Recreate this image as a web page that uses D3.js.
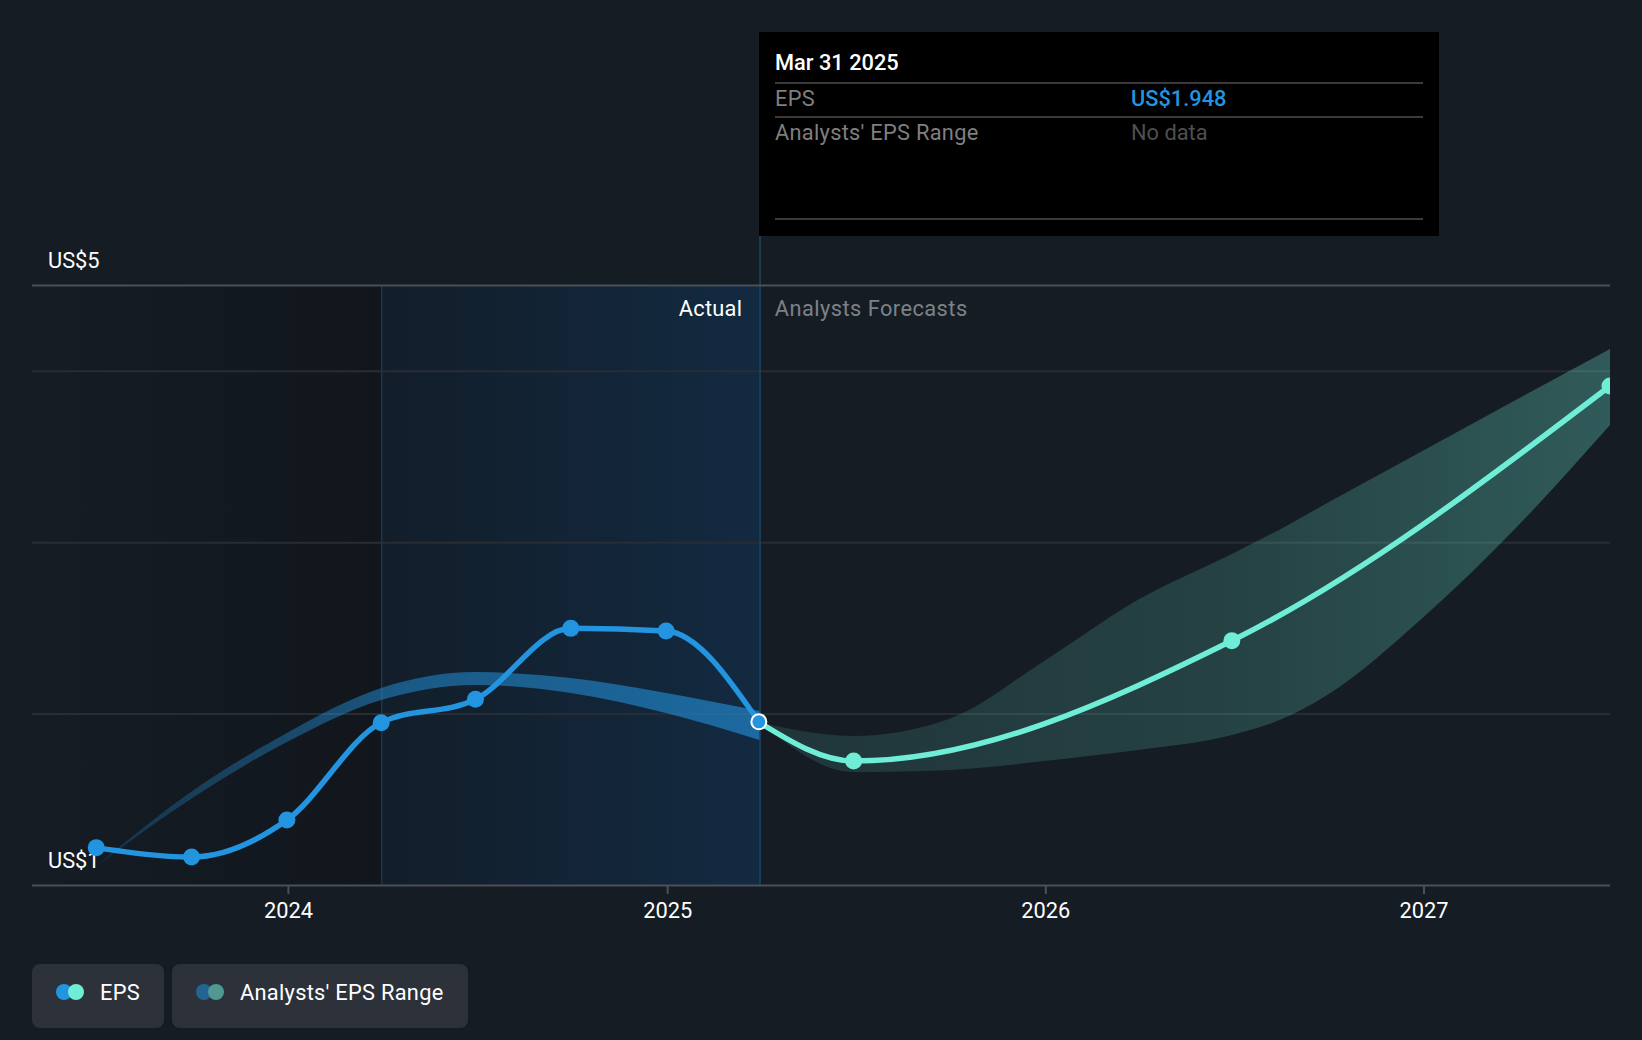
<!DOCTYPE html>
<html>
<head>
<meta charset="utf-8">
<script src="https://cdn.jsdelivr.net/npm/d3@7"></script>
<style>
  html, body { margin: 0; padding: 0; background: #151c24; }
  svg { display: block; }
  text { font-family: Roboto, sans-serif; font-size: 21.8px; }
  .words { letter-spacing: 0.28px; }
</style>
</head>
<body>
<svg id="chart" width="1642" height="1040"></svg>
<script>
// EPS, actual
const actualDates = ['2023-06-30', '2023-09-30', '2023-12-31', '2024-03-31', '2024-06-30', '2024-09-30', '2024-12-31', '2025-03-31'];
const actualEps = [1.218, 1.163, 1.379, 1.947, 2.083, 2.497, 2.482, 1.948];

// EPS, forecast
const forecastDates = ['2025-03-31', '2025-06-30', '2026-06-30', '2027-06-30'];
const forecastEps = [1.948, 1.723, 2.425, 3.911];

// past analysts range
const pastRangeDates = ['2023-06-30', '2023-09-30', '2023-12-31', '2024-03-31', '2024-06-30', '2024-09-30', '2024-12-31', '2025-03-31'];
const pastRangeHigh = [1.11, 1.545, 1.887, 2.149, 2.242, 2.207, 2.120, 2.015];
const pastRangeLow = [1.11, 1.505, 1.834, 2.079, 2.167, 2.120, 2.003, 1.846];

// forecast analysts range
const futureRangeDates = ['2025-03-31', '2025-06-30', '2025-09-30', '2025-12-31', '2026-03-31', '2026-06-30', '2026-08-15', '2026-09-30', '2026-12-31', '2027-03-31', '2027-06-30'];
const futureRangeHigh = [1.948, 1.869, 1.968, 2.307, 2.662, 2.931, 3.073, 3.228, 3.532, 3.829, 4.127];
const futureRangeLow = [1.948, 1.659, 1.671, 1.723, 1.787, 1.875, 1.962, 2.108, 2.557, 3.082, 3.683];

const yearTicks = ['2024-01-01', '2025-01-01', '2026-01-01', '2027-01-01'];
const yearLabels = ['2024', '2025', '2026', '2027'];
const gridValues = [2, 3, 4];
const yEnds = [1, 4.5];
const yEndLabels = ['US$1', 'US$5'];

const tooltipDate = 'Mar 31 2025';
const tooltipLabels = ['EPS', "Analysts' EPS Range"];
const tooltipValues = ['US$1.948', 'No data'];

const legendLabels = ['EPS', "Analysts' EPS Range"];

const BLUE = '#2394df';
const TEAL = '#6fedd6';

const parse = d3.utcParse('%Y-%m-%d');
const svg = d3.select('#chart');
const margin = { left: 32, right: 32, top: 285, bottom: 155 };
const width = +svg.attr('width');
const height = +svg.attr('height');
const plotBottom = height - margin.bottom;
const plotRight = width - margin.right;

const x = d3.scaleUtc()
  .domain([parse('2023-04-29'), parse('2027-06-30')])
  .range([margin.left, plotRight]);
const y = d3.scaleLinear().domain(yEnds).range([plotBottom, margin.top]);

// gradients
const defs = svg.append('defs');
function gradient(id, stops) {
  const g = defs.append('linearGradient').attr('id', id)
    .attr('x1', 0).attr('x2', 1).attr('y1', 0).attr('y2', 0);
  stops.forEach((s) => {
    g.append('stop').attr('offset', s[0]).attr('stop-color', s[1]).attr('stop-opacity', s[2]);
  });
}
gradient('leftShade', [[0, '#0e1116', 0], [1, '#0e1116', 0.5]]);
gradient('actualShade', [[0, '#121e2a', 1], [1, '#122a41', 1]]);
gradient('pastBand', [[0, BLUE, 0.2], [0.45, BLUE, 0.5], [1, BLUE, 0.6]]);
gradient('futureBand', [[0, TEAL, 0.12], [0.55, TEAL, 0.18], [1, TEAL, 0.3]]);
defs.append('clipPath').attr('id', 'plotClip').append('rect')
  .attr('x', margin.left).attr('y', 0)
  .attr('width', plotRight - margin.left).attr('height', height);

const xLine = x(parse('2025-03-31'));
const xStart = x(parse('2024-03-31'));

// shaded zones
svg.append('rect').attr('x', margin.left).attr('y', margin.top)
  .attr('width', xStart - margin.left).attr('height', plotBottom - margin.top)
  .attr('fill', 'url(#leftShade)');
svg.append('rect').attr('x', xStart).attr('y', margin.top)
  .attr('width', xLine - xStart).attr('height', plotBottom - margin.top)
  .attr('fill', 'url(#actualShade)');

// grid lines
const grid = svg.append('g').attr('transform', `translate(${margin.left},0)`)
  .call(d3.axisRight(y).tickValues(gridValues).tickSize(plotRight - margin.left).tickFormat(''));
grid.select('.domain').remove();
grid.selectAll('line').attr('stroke', '#282d34').attr('stroke-width', 2);

svg.append('line').attr('x1', xStart + 0.5).attr('x2', xStart + 0.5)
  .attr('y1', margin.top).attr('y2', plotBottom)
  .attr('stroke', '#1b374c').attr('stroke-width', 1.5);
svg.append('line').attr('x1', xLine + 0.7).attr('x2', xLine + 0.7)
  .attr('y1', 236).attr('y2', plotBottom)
  .attr('stroke', '#1d4563').attr('stroke-width', 1.5);

// top and bottom rules, with their end labels
const yEdge = svg.append('g').attr('transform', `translate(${margin.left},0)`)
  .call(d3.axisRight(y).tickValues(yEnds).tickSize(plotRight - margin.left)
    .tickFormat((d, i) => yEndLabels[i]));
yEdge.select('.domain').remove();
yEdge.selectAll('line').attr('stroke', '#4b5058').attr('stroke-width', 2);
yEdge.selectAll('text')
  .attr('x', 16).attr('dy', -23)
  .attr('text-anchor', 'start').attr('dominant-baseline', 'middle')
  .attr('fill', '#fff');

// x axis
const xAxis = svg.append('g').attr('transform', `translate(0,${plotBottom})`)
  .call(d3.axisBottom(x).tickValues(yearTicks.map(parse)).tickSize(9).tickPadding(9)
    .tickFormat((d, i) => yearLabels[i]));
xAxis.select('.domain').remove();
xAxis.selectAll('line').attr('stroke', '#4b5058').attr('stroke-width', 2);
xAxis.selectAll('text').attr('fill', '#fff').style('font-size', '21.8px');

svg.append('text').attr('class', 'words').attr('x', xLine - 17).attr('y', 310)
  .attr('text-anchor', 'end').attr('dominant-baseline', 'middle')
  .attr('fill', '#fff').text('Actual');
svg.append('text').attr('x', xLine + 15.5).attr('y', 310)
  .attr('dominant-baseline', 'middle').style('letter-spacing', '0.45px')
  .attr('fill', '#7d8188').text('Analysts Forecasts');

// series
const chart = svg.append('g').attr('clip-path', 'url(#plotClip)');
const band = d3.area().curve(d3.curveMonotoneX)
  .x((d) => x(d.date)).y0((d) => y(d.low)).y1((d) => y(d.high));
const line = d3.line().curve(d3.curveMonotoneX)
  .x((d) => x(d.date)).y((d) => y(d.value));

const pastRange = pastRangeDates.map((d, i) => ({ date: parse(d), high: pastRangeHigh[i], low: pastRangeLow[i] }));
const futureRange = futureRangeDates.map((d, i) => ({ date: parse(d), high: futureRangeHigh[i], low: futureRangeLow[i] }));
const actual = actualDates.map((d, i) => ({ date: parse(d), value: actualEps[i] }));
const forecast = forecastDates.map((d, i) => ({ date: parse(d), value: forecastEps[i] }));

chart.append('path').datum(pastRange).attr('d', band).attr('fill', 'url(#pastBand)');
chart.append('path').datum(futureRange).attr('d', band).attr('fill', 'url(#futureBand)');
chart.append('path').datum(actual).attr('d', line)
  .attr('fill', 'none').attr('stroke', BLUE).attr('stroke-width', 5.5);
chart.append('path').datum(forecast).attr('d', line)
  .attr('fill', 'none').attr('stroke', TEAL).attr('stroke-width', 5.5);

chart.selectAll('.dot-actual').data(actual.slice(0, -1)).join('circle')
  .attr('class', 'dot-actual')
  .attr('cx', (d) => x(d.date)).attr('cy', (d) => y(d.value)).attr('r', 8.5)
  .attr('fill', BLUE);
chart.selectAll('.dot-forecast').data(forecast.slice(1)).join('circle')
  .attr('class', 'dot-forecast')
  .attr('cx', (d) => x(d.date)).attr('cy', (d) => y(d.value)).attr('r', 8.5)
  .attr('fill', TEAL);
chart.selectAll('.dot-hover').data(actual.slice(-1)).join('circle')
  .attr('class', 'dot-hover')
  .attr('cx', (d) => x(d.date) - 0.5).attr('cy', (d) => y(d.value) - 0.7).attr('r', 7.5)
  .attr('fill', BLUE).attr('stroke', '#fff').attr('stroke-width', 2);

// tooltip
const tip = svg.append('g');
tip.append('rect').attr('x', 759).attr('y', 32).attr('width', 680).attr('height', 204).attr('fill', '#000');
tip.selectAll('line').data([83, 117, 219]).join('line')
  .attr('x1', 775).attr('x2', 1423)
  .attr('y1', (d) => d).attr('y2', (d) => d)
  .attr('stroke', '#3a3a3a').attr('stroke-width', 2);
tip.append('text').attr('x', 775).attr('y', 64).attr('dominant-baseline', 'middle')
  .attr('fill', '#fff').style('font-weight', 500).text(tooltipDate);
tip.selectAll('.tip-label').data(tooltipLabels).join('text')
  .attr('class', 'tip-label words')
  .attr('x', 775).attr('y', (d, i) => 100 + i * 34.5)
  .attr('dominant-baseline', 'middle')
  .attr('fill', '#7f7f7f').text((d) => d);
tip.selectAll('.tip-value').data(tooltipValues).join('text')
  .attr('class', 'tip-value')
  .attr('x', 1131).attr('y', (d, i) => 100 + i * 34.5)
  .attr('dominant-baseline', 'middle')
  .attr('fill', (d, i) => (i === 0 ? BLUE : '#4f4f4f'))
  .style('font-weight', (d, i) => (i === 0 ? 500 : 400))
  .text((d) => d);

// legend
const legendBoxes = [
  { x: 32, w: 132, dots: ['#2394df', '#6fedd6'], tx: 100 },
  { x: 172, w: 296, dots: ['#236592', '#4f9990'], tx: 240 },
];
const legend = svg.selectAll('.legend').data(legendBoxes).join('g').attr('class', 'legend');
legend.append('rect').attr('x', (d) => d.x).attr('y', 964)
  .attr('width', (d) => d.w).attr('height', 64).attr('rx', 8)
  .attr('fill', '#2d3139');
legend.append('circle').attr('cx', (d) => d.x + 32).attr('cy', 992).attr('r', 8).attr('fill', (d) => d.dots[0]);
legend.append('circle').attr('cx', (d) => d.x + 44).attr('cy', 992).attr('r', 8).attr('fill', (d) => d.dots[1]);
legend.append('text').attr('class', 'words').attr('x', (d) => d.tx).attr('y', 994)
  .attr('dominant-baseline', 'middle').attr('fill', '#fff')
  .text((d, i) => legendLabels[i]);
</script>
</body>
</html>
